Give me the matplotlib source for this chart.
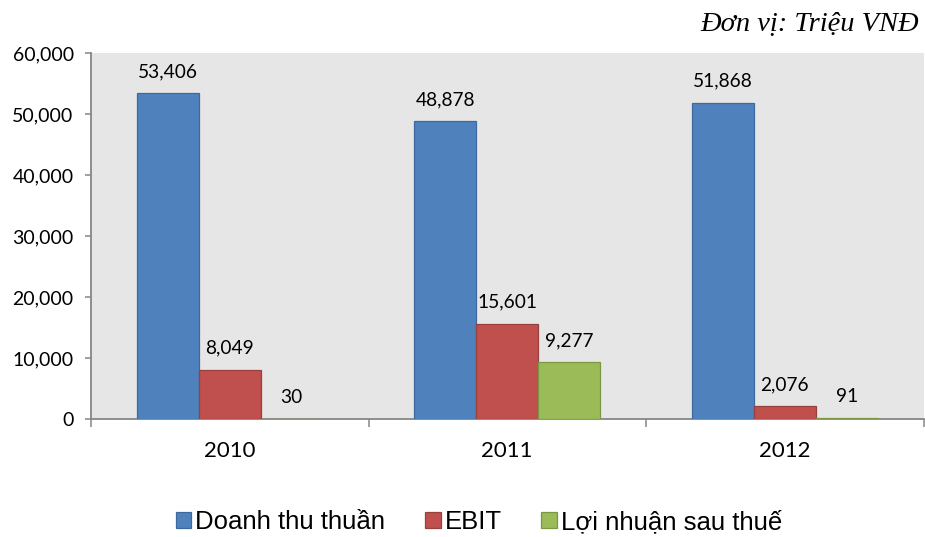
import matplotlib
matplotlib.use("Agg")
import matplotlib.pyplot as plt
import matplotlib.patches as mpatches
import numpy as np

years = ["2010", "2011", "2012"]
series_names = ["Doanh thu thuần", "EBIT", "Lợi nhuận sau thuế"]
doanh_thu = [53406, 48878, 51868]
ebit = [8049, 15601, 2076]
loi_nhuan = [30, 9277, 91]
y_ticks = [0, 10000, 20000, 30000, 40000, 50000, 60000]

fills = ["#4F81BD", "#C0504D", "#9BBB59"]
edges = ["#3D6A9E", "#98403D", "#7A9744"]

W, H = 925, 537
fig = plt.figure(figsize=(W / 100, H / 100), dpi=100)
ax = fig.add_axes([91 / W, 1 - 419 / H, (923.5 - 91) / W, (419 - 53.3) / H])
ax.set_facecolor("#E6E6E6")

x = np.arange(len(years))
bw = 0.2234
all_series = [doanh_thu, ebit, loi_nhuan]
for i, vals in enumerate(all_series):
    xs = x + (i - 1) * bw
    ax.bar(xs, vals, width=bw, color=fills[i], edgecolor=edges[i],
           linewidth=0.9, zorder=5)
    for xi, v in zip(xs, vals):
        ax.annotate(f"{v:,}", (xi, v), xytext=(0, 9.5), textcoords="offset points",
                    ha="center", va="bottom", fontsize=13.8, family="Lato",
                    color="black")

ax.set_xlim(-0.5, 2.5)
ax.set_ylim(0, 60000)
ax.set_yticks(y_ticks)
ax.set_yticklabels([f"{t:,}" for t in y_ticks], family="Lato", fontsize=14)
ax.set_xticks([-0.5, 0.5, 1.5, 2.5])
ax.set_xticklabels([])
ax.set_xticks(x, minor=True)
ax.set_xticklabels(years, minor=True, family="Lato", fontsize=16)
ax.tick_params(axis="x", which="minor", length=0, pad=16)
ax.tick_params(axis="x", which="major", length=5.5, width=1.1, color="#868686", direction="out")
ax.tick_params(axis="y", length=4.5, width=1.1, color="#868686", direction="out", pad=8)

for s in ["top", "right"]:
    ax.spines[s].set_visible(False)
for s in ["left", "bottom"]:
    ax.spines[s].set_color("#868686")
    ax.spines[s].set_linewidth(1.3)
    ax.spines[s].set_zorder(4)

fig.text(919 / W, 1 - 30 / H, "Đơn vị: Triệu VNĐ", ha="right", va="baseline",
         family="Liberation Serif", style="italic", fontsize=20.5)

handles = [mpatches.Patch(facecolor=fills[i], edgecolor=edges[i], linewidth=0.9)
           for i in range(3)]
fig.legend(handles, series_names, loc="center", bbox_to_anchor=(479 / W, 1 - 522 / H),
           ncol=3, frameon=False, prop={"family": "Liberation Sans", "size": 18.5},
           handlelength=0.6, handleheight=0.6, handletextpad=0.15,
           columnspacing=1.55, borderpad=0, borderaxespad=0)

fig.savefig("out.png", dpi=100)
